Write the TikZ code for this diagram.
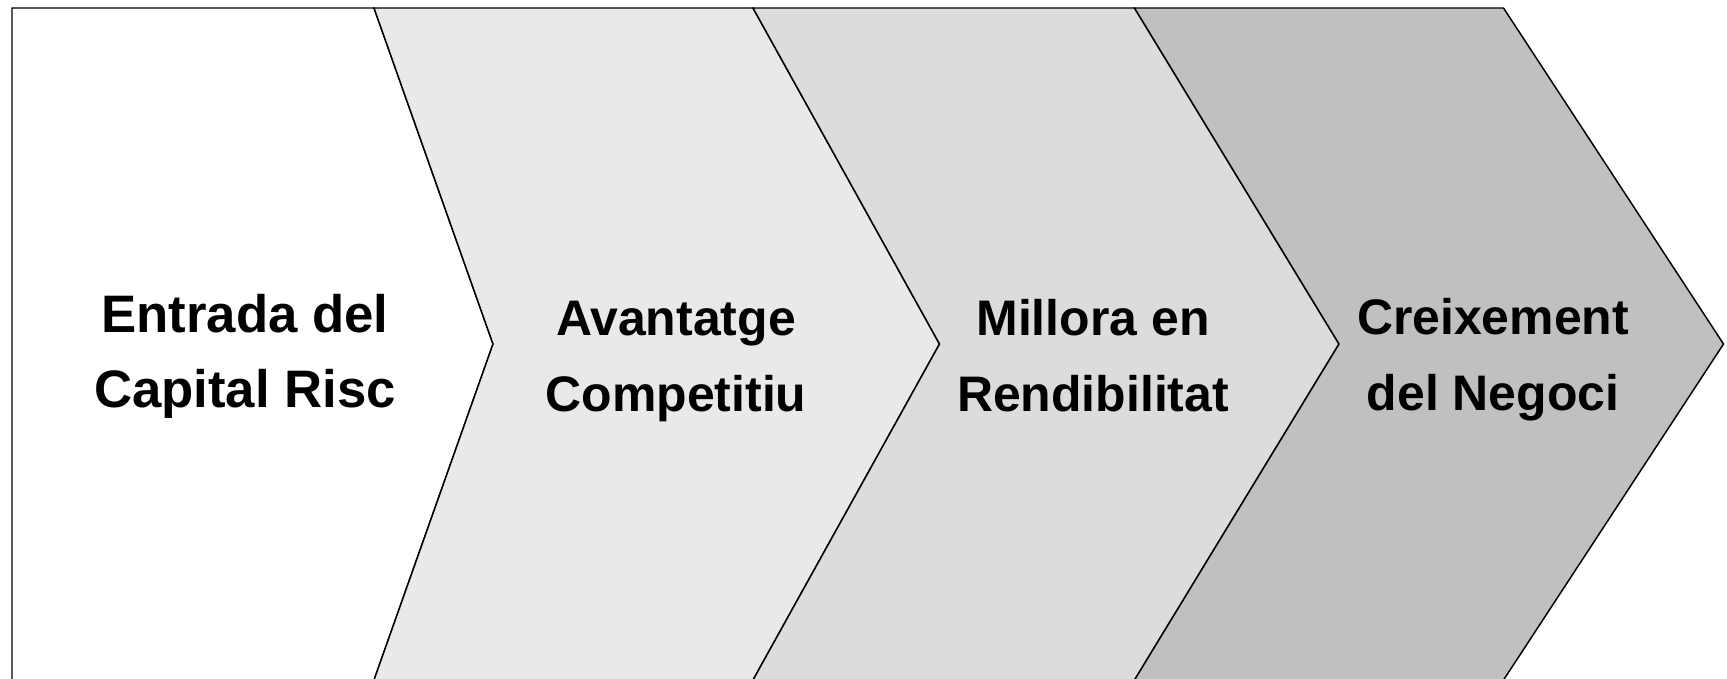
\documentclass[tikz,border=0pt]{standalone}
\usepackage{fontspec}
\setmainfont{Liberation Sans}
\definecolor{gA}{HTML}{E9E9E9}
\definecolor{gB}{HTML}{DCDCDC}
\definecolor{gC}{HTML}{C0C0C0}
\tikzset{
  stage/.style={draw=black, line width=0.42pt, line join=miter},
  bigtxt/.style={align=center, inner sep=0pt, anchor=base, font=\fontsize{15pt}{21.3pt}\selectfont\bfseries},
  smalltxt/.style={align=center, inner sep=0pt, anchor=base, font=\fontsize{14.2pt}{21.6pt}\selectfont\bfseries}
}
\begin{document}
\begin{tikzpicture}[x=0.01cm, y=-0.01cm]
\useasboundingbox (0,0) rectangle (1727,678);
\fill[white] (0,0) rectangle (1727,678);
% stages
\draw[stage, fill=white] (12,8) -- (374,8) -- (493,344) -- (374,680) -- (12,680) -- cycle;
\draw[stage, fill=gA] (374,8) -- (753,8) -- (939.5,344) -- (753,680) -- (374,680) -- (493,344) -- cycle;
\draw[stage, fill=gB] (753,8) -- (1134.5,8) -- (1339,344) -- (1134.5,680) -- (753,680) -- (939.5,344) -- cycle;
\draw[stage, fill=gC] (1134.5,8) -- (1503.5,8) -- (1723.5,344) -- (1503.5,680) -- (1134.5,680) -- (1339,344) -- cycle;
% labels (anchor = baseline of the last line)
\node[bigtxt] (t1) at (245,407) {Entrada del\\Capital Risc};
\node[smalltxt] (t2) at (676,411) {Avantatge\\Competitiu};
\node[smalltxt] (t3) at (1093,411) {Millora en\\Rendibilitat};
\node[smalltxt] (t4) at (1493,410) {Creixement\\del Negoci};
\end{tikzpicture}
\end{document}
